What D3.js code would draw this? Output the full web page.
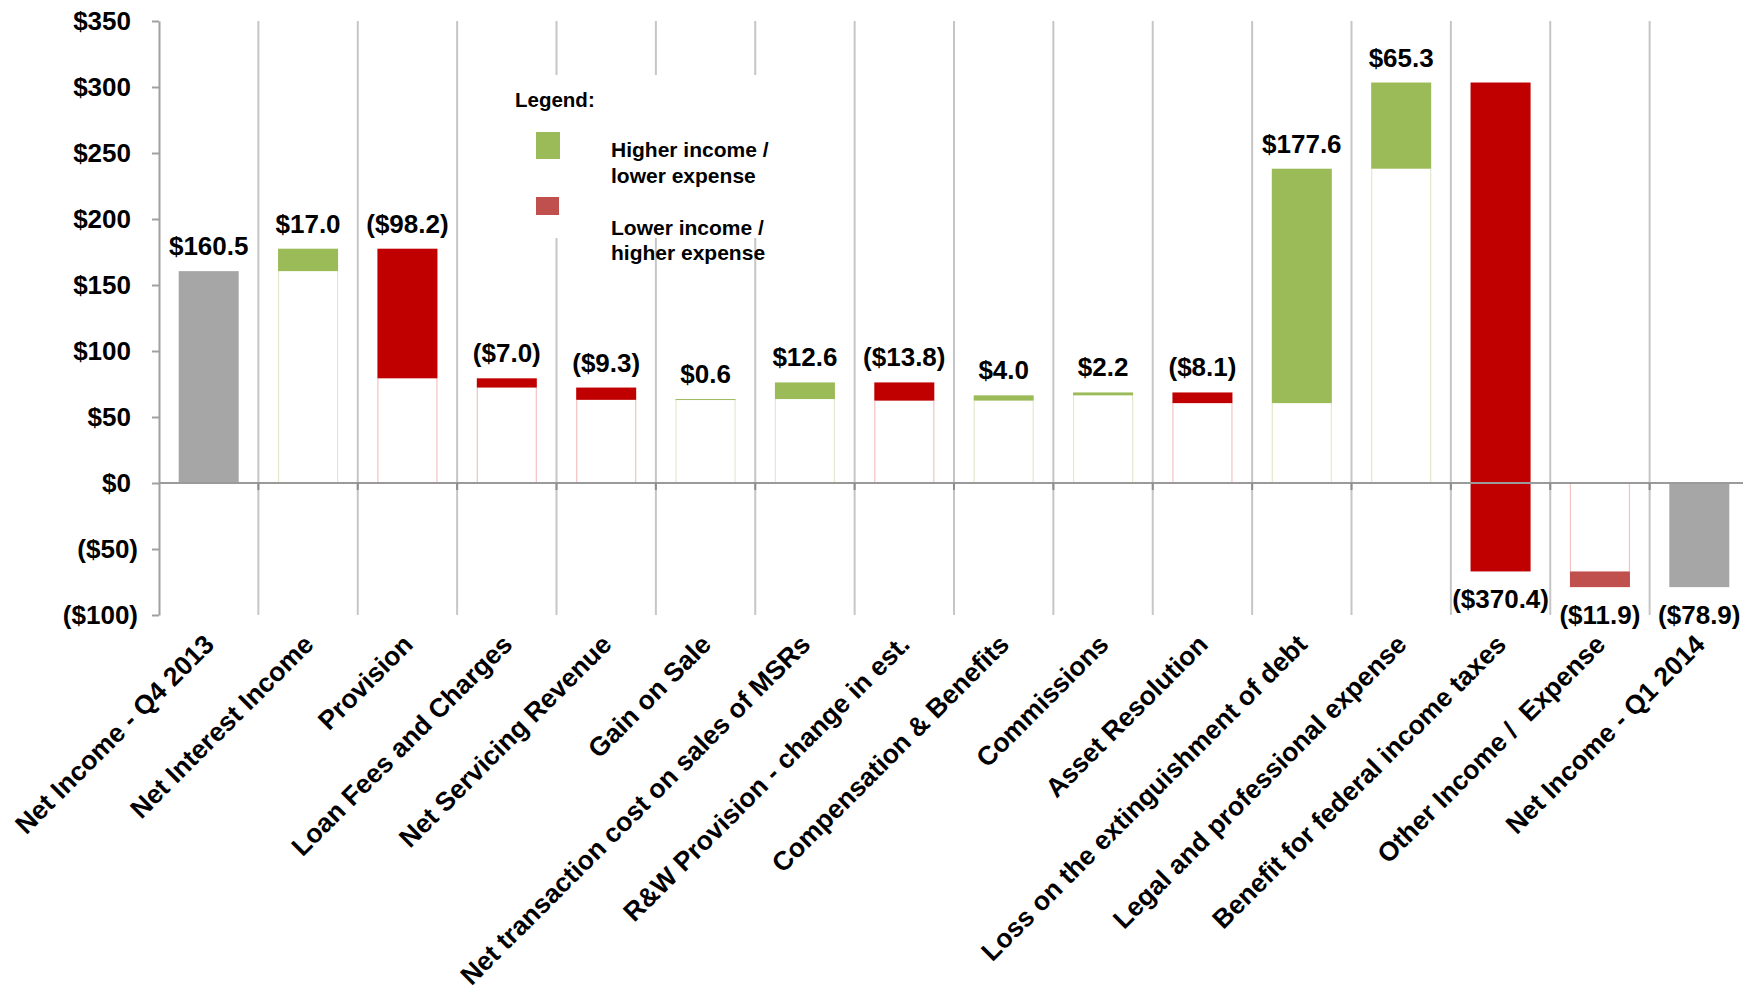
<!DOCTYPE html>
<html>
<head>
<meta charset="utf-8">
<script src="https://cdn.jsdelivr.net/npm/d3@7"></script>
<style>
  html, body { margin: 0; padding: 0; background: #fff; }
  svg { display: block; font-family: "Liberation Sans", Arial, sans-serif; font-weight: bold; }
</style>
</head>
<body>
<svg id="chart" width="1743" height="990"></svg>
<script>
// Quarter-over-quarter net income bridge ($ millions)
const categories = [
  "Net Income - Q4 2013",
  "Net Interest Income",
  "Provision",
  "Loan Fees and Charges",
  "Net Servicing Revenue",
  "Gain on Sale",
  "Net transaction cost on sales of MSRs",
  "R&W Provision - change in est.",
  "Compensation & Benefits",
  "Commissions",
  "Asset Resolution",
  "Loss on the extinguishment of debt",
  "Legal and professional expense",
  "Benefit for federal income taxes",
  "Other Income /  Expense",
  "Net Income - Q1 2014"
];

// Totals are absolute values; every other entry is a change from the running total
const changes = [160.5, 17.0, -98.2, -7.0, -9.3, 0.6, 12.6, -13.8, 4.0, 2.2, -8.1, 177.6, 65.3, -370.4, -11.9, -78.9];

const barKinds = ["total", "up", "down", "down", "down", "up", "up", "down", "up", "up", "down", "up", "up", "down", "downOther", "total"];

const yTicks = [-100, -50, 0, 50, 100, 150, 200, 250, 300, 350];

const legendTitle = "Legend:";
const legendItems = [
  { kind: "up",        lines: ["Higher income /", "lower expense"] },
  { kind: "downOther", lines: ["Lower income /", "higher expense"] }
];

// ---- styling ----
const fills = { total: "#a6a6a6", up: "#9bbb59", down: "#c00000", downOther: "#c0504d" };
const baseStrokes = { up: "#e2e9cf", down: "#f3c2c2", downOther: "#f3c2c2" };

const money = v => v < 0 ? `($${Math.abs(v).toFixed(1)})` : `$${v.toFixed(1)}`;
const tickFmt = v => v < 0 ? `($${Math.abs(v)})` : `$${v}`;

const svg = d3.select("#chart");

const x = d3.scaleBand().domain(categories).range([159, 1749]).paddingInner(0).paddingOuter(0);
const y = d3.scaleLinear().domain([-100, 350]).range([615, 21]);
const bw = x.bandwidth();
const barW = bw * 0.604;
const barX = c => x(c) + (bw - barW) / 2;

// running totals -> bar extents
let running = 0;
const bars = categories.map((c, i) => {
  const kind = barKinds[i];
  let start, end;
  if (kind === "total") { start = 0; end = changes[i]; running = changes[i]; }
  else { start = running; end = running + changes[i]; running = end; }
  return { c, kind, value: changes[i], start, end, lo: Math.min(start, end), hi: Math.max(start, end) };
});

// vertical category separators
const bounds = d3.range(1, categories.length + 1).map(i => x.range()[0] + i * bw);
svg.append("g").selectAll("line").data(bounds).join("line")
  .attr("x1", d => d).attr("x2", d => d)
  .attr("y1", y(350)).attr("y2", y(-100))
  .attr("stroke", "#c6c6c6").attr("stroke-width", 2);

// legend panel (opaque, sits over the separators)
const lg = svg.append("g");
lg.append("rect").attr("x", 500).attr("y", 75).attr("width", 300).attr("height", 163).attr("fill", "#fff");
lg.append("text").attr("x", 515).attr("y", 107).attr("font-size", 20.5).attr("fill", "#000").text(legendTitle);
const sq = [{ x: 536, y: 132, w: 24, h: 27 }, { x: 536, y: 197, w: 23, h: 18 }];
const textY = [[157, 183], [235, 260]];
legendItems.forEach((it, i) => {
  lg.append("rect").attr("x", sq[i].x).attr("y", sq[i].y).attr("width", sq[i].w).attr("height", sq[i].h)
    .attr("fill", fills[it.kind]);
  it.lines.forEach((ln, j) => {
    lg.append("text").attr("x", 611).attr("y", textY[i][j]).attr("font-size", 21).attr("fill", "#000").text(ln);
  });
});

// faint outlines of the hidden base under floating bars
const floating = bars.filter(b => b.kind !== "total" && (b.lo >= 0 || b.hi <= 0));
const bases = floating.map(b => ({ b, from: 0, to: b.lo >= 0 ? b.lo : b.hi }));
const baseG = svg.append("g");
bases.forEach(d => {
  [barX(d.b.c) + 0.5, barX(d.b.c) + barW - 0.5].forEach(xx => {
    baseG.append("line").attr("x1", xx).attr("x2", xx)
      .attr("y1", y(d.from)).attr("y2", y(d.to))
      .attr("stroke", baseStrokes[d.b.kind]).attr("stroke-width", 1.2);
  });
});

// bars
svg.append("g").selectAll("rect").data(bars).join("rect")
  .attr("x", d => barX(d.c))
  .attr("width", barW)
  .attr("y", d => y(d.hi))
  .attr("height", d => Math.max(1, y(d.lo) - y(d.hi)))
  .attr("fill", d => fills[d.kind]);

// zero line with small ticks at category boundaries
svg.append("line").attr("x1", 159).attr("x2", 1749).attr("y1", y(0)).attr("y2", y(0))
  .attr("stroke", "#9a9a9a").attr("stroke-width", 2);
svg.append("g").selectAll("line").data(bounds).join("line")
  .attr("x1", d => d).attr("x2", d => d)
  .attr("y1", y(0)).attr("y2", y(0) + 7)
  .attr("stroke", "#8c8c8c").attr("stroke-width", 2);

// y axis (positive labels leave room for a closing parenthesis, accounting style)
const yAxis = svg.append("g").attr("transform", "translate(159,0)")
  .call(d3.axisLeft(y).tickValues(yTicks).tickSize(7).tickSizeOuter(0).tickPadding(14).tickFormat(tickFmt));
yAxis.select(".domain").attr("stroke", "#a0a0a0").attr("stroke-width", 2);
yAxis.selectAll(".tick line").attr("stroke", "#a0a0a0").attr("stroke-width", 2);
yAxis.selectAll(".tick text")
  .attr("font-family", "\"Liberation Sans\", Arial, sans-serif")
  .attr("font-weight", "bold").attr("font-size", 26).attr("fill", "#000")
  .attr("dx", d => d < 0 ? 0 : -7);

// value labels
svg.append("g").selectAll("text").data(bars).join("text")
  .attr("x", d => x(d.c) + bw / 2)
  .attr("y", d => d.lo < 0 ? y(d.lo) + 37 : y(d.hi) - 16)
  .attr("text-anchor", "middle")
  .attr("font-size", 26).attr("fill", "#000")
  .text(d => money(d.value));

// rotated category labels
svg.append("g").selectAll("text").data(categories).join("text")
  .attr("transform", c => `translate(${x(c) + bw / 2 + 7},646) rotate(-45)`)
  .attr("text-anchor", "end")
  .attr("font-size", 26.5).attr("fill", "#000")
  .attr("xml:space", "preserve")
  .style("white-space", "pre")
  .text(c => c);
</script>
</body>
</html>
